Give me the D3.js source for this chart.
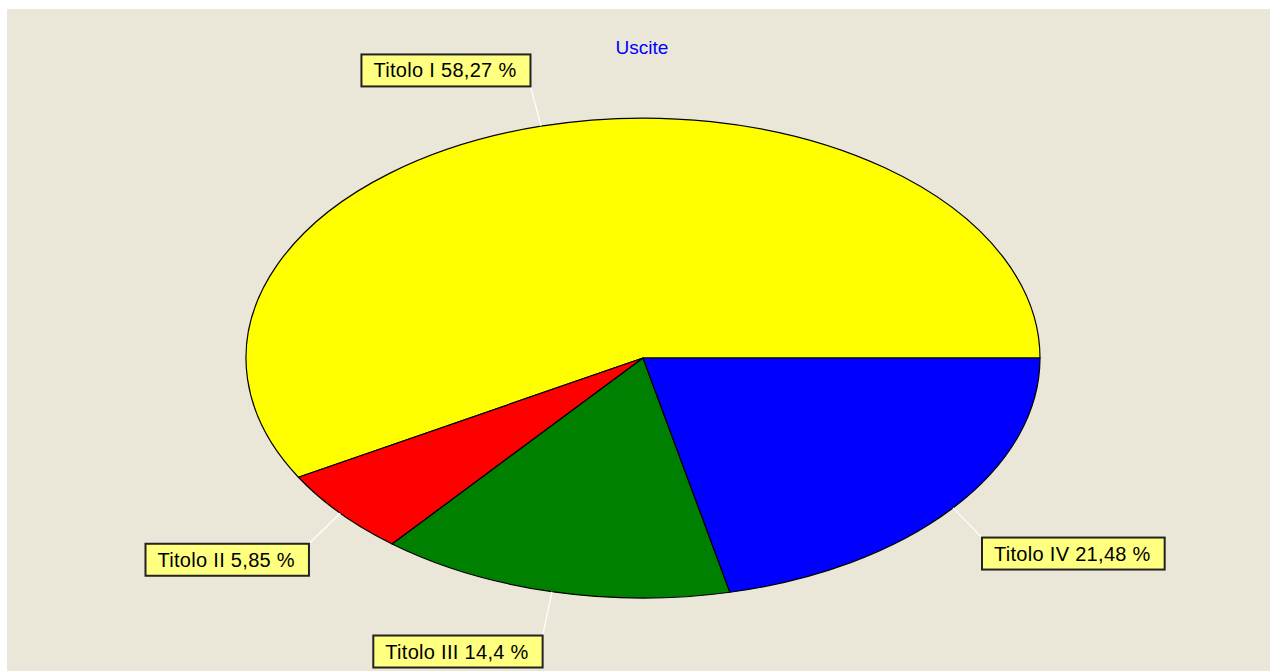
<!DOCTYPE html>
<html>
<head>
<meta charset="utf-8">
<script src="https://cdn.jsdelivr.net/npm/d3@7"></script>
<style>
  body { margin: 0; background: #fff; }
  svg { display: block; }
</style>
</head>
<body>
<svg></svg>
<script>
// slice data, in drawing order (counter-clockwise from 3 o'clock)
var names = ["Titolo I", "Titolo II", "Titolo III", "Titolo IV"];
var values = [58.27, 5.85, 14.4, 21.48];
var labels = ["58,27 %", "5,85 %", "14,4 %", "21,48 %"];
var colors = ["#ffff00", "#ff0000", "#008000", "#0000ff"];
var title = "Uscite";

var width = 1270, height = 671;
var cx = 643, cy = 358, rx = 397, ry = 240;
var gap = 41;

var svg = d3.select("svg")
    .attr("width", width)
    .attr("height", height);

svg.append("rect")
    .attr("x", 7).attr("y", 9)
    .attr("width", width - 7).attr("height", height - 9)
    .attr("fill", "#ebe7d8");

svg.append("text")
    .attr("x", 642).attr("y", 54)
    .attr("text-anchor", "middle")
    .attr("font-family", "Liberation Sans, Arial, sans-serif")
    .attr("font-size", 19)
    .attr("fill", "#0000ff")
    .text(title);

var pie = d3.pie()
    .sort(null)
    .startAngle(Math.PI / 2)
    .endAngle(Math.PI / 2 - 2 * Math.PI);

var arcs = pie(values);

var arc = d3.arc().innerRadius(0).outerRadius(1);

var pieGp = svg.append("g")
    .attr("transform", `translate(${cx},${cy}) scale(${rx},${ry})`);

pieGp.selectAll("path")
  .data(arcs)
  .enter()
  .append("path")
    .attr("d", arc)
    .attr("fill", (d, i) => colors[i])
    .attr("stroke", "#000")
    .attr("stroke-width", 1.2)
    .attr("vector-effect", "non-scaling-stroke")
    .attr("stroke-linejoin", "round");

// labels with leader lines
var labelGp = svg.append("g");

arcs.forEach((d, i) => {
  var a = (d.startAngle + d.endAngle) / 2;
  var x0 = cx + Math.sin(a) * rx, y0 = cy - Math.cos(a) * ry;
  var x1 = cx + Math.sin(a) * (rx + gap), y1 = cy - Math.cos(a) * (ry + gap);
  if (y1 > cy) y1 += 4;
  if (x1 > cx) x1 -= 3;

  labelGp.append("line")
      .attr("x1", x0).attr("y1", y0)
      .attr("x2", x1).attr("y2", y1)
      .attr("stroke", "#fff")
      .attr("stroke-width", 1.2);

  var g = labelGp.append("g");
  var t = g.append("text")
      .attr("font-family", "Liberation Sans, Arial, sans-serif")
      .attr("font-size", 20)
      .attr("letter-spacing", 0.3)
      .attr("fill", "#000")
      .text(names[i] + " " + labels[i]);
  var tw = t.node().getComputedTextLength();
  var bw = tw + 26, bh = 32;
  var bx = x1 < cx ? x1 - bw : x1;
  var by = y1 < cy ? y1 - bh : y1;

  g.insert("rect", "text")
      .attr("x", bx).attr("y", by)
      .attr("width", bw).attr("height", bh)
      .attr("fill", "#ffff80")
      .attr("stroke", "#222")
      .attr("stroke-width", 2);
  t.attr("x", bx + 12).attr("y", by + 23);
});
</script>
</body>
</html>
